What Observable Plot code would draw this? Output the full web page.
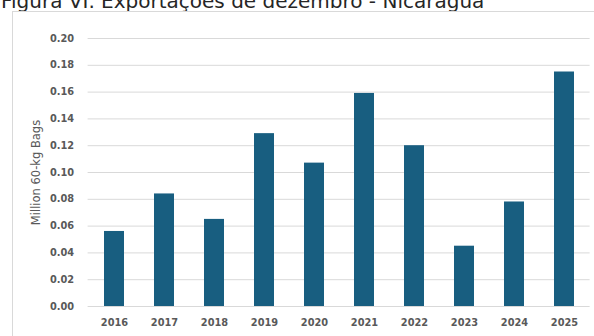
<!DOCTYPE html>
<html>
<head>
<meta charset="utf-8">
<script src="https://cdn.jsdelivr.net/npm/d3@7"></script>
<script src="https://cdn.jsdelivr.net/npm/@observablehq/plot@0.6"></script>
<style>
  html, body { margin: 0; padding: 0; background: #fff; overflow: hidden; }
  #wrap { position: relative; width: 594px; height: 336px; overflow: hidden; }
  #title {
    position: absolute; left: 1px; top: -9.5px; white-space: nowrap;
    font-family: "DejaVu Sans", sans-serif; font-size: 20px; line-height: 20px;
    color: #262626;
  }
  #frame {
    position: absolute; left: 12px; top: 11px; width: 600px; height: 340px;
    border: 1px solid #d9d9d9; box-sizing: border-box;
  }
  #chart { position: absolute; left: 0; top: 0; }
</style>
</head>
<body>
<div id="wrap">
  <div id="title">Figura VI. Exportações de dezembro - Nicarágua</div>
  <div id="frame"></div>
  <div id="chart"></div>
</div>
<script>
// December exports, Nicaragua (million 60-kg bags)
const years = ["2016", "2017", "2018", "2019", "2020", "2021", "2022", "2023", "2024", "2025"];
const exports = [0.056, 0.084, 0.065, 0.129, 0.107, 0.159, 0.120, 0.045, 0.078, 0.175];
const yTicks = [0, 0.02, 0.04, 0.06, 0.08, 0.10, 0.12, 0.14, 0.16, 0.18, 0.20];
const yLabel = "Million 60-kg Bags";

const data = years.map((year, i) => ({year, value: exports[i]}));

const chart = Plot.plot({
  width: 594,
  height: 336,
  marginLeft: 87.6,
  marginRight: 4.4,
  marginTop: 38,
  marginBottom: 30,
  style: {background: "transparent", overflow: "visible"},
  x: {domain: years, paddingInner: 0.6, paddingOuter: 0.3, label: null},
  y: {domain: [0, 0.2], label: null},
  marks: [
    Plot.ruleY(yTicks, {stroke: "#d9d9d9", strokeWidth: 1}),
    Plot.barY(data, {x: "year", y: "value", fill: "#185e80"}),
    Plot.axisX({
      tickSize: 0, tickPadding: 13, fontSize: 9.8, fontWeight: "bold",
      fontFamily: "DejaVu Sans", fill: "#595959", label: null
    }),
    Plot.axisY({
      ticks: yTicks, tickFormat: d3.format(".2f"), tickSize: 0, tickPadding: 14,
      fontSize: 9.8, fontWeight: "bold", fontFamily: "DejaVu Sans", fill: "#595959", label: null
    }),
    Plot.text([yLabel], {
      frameAnchor: "left", textAnchor: "middle", dx: -51.6, rotate: -90, fontSize: 11.5,
      fontFamily: "DejaVu Sans", fill: "#595959"
    })
  ]
});
document.getElementById("chart").appendChild(chart);
</script>
</body>
</html>
